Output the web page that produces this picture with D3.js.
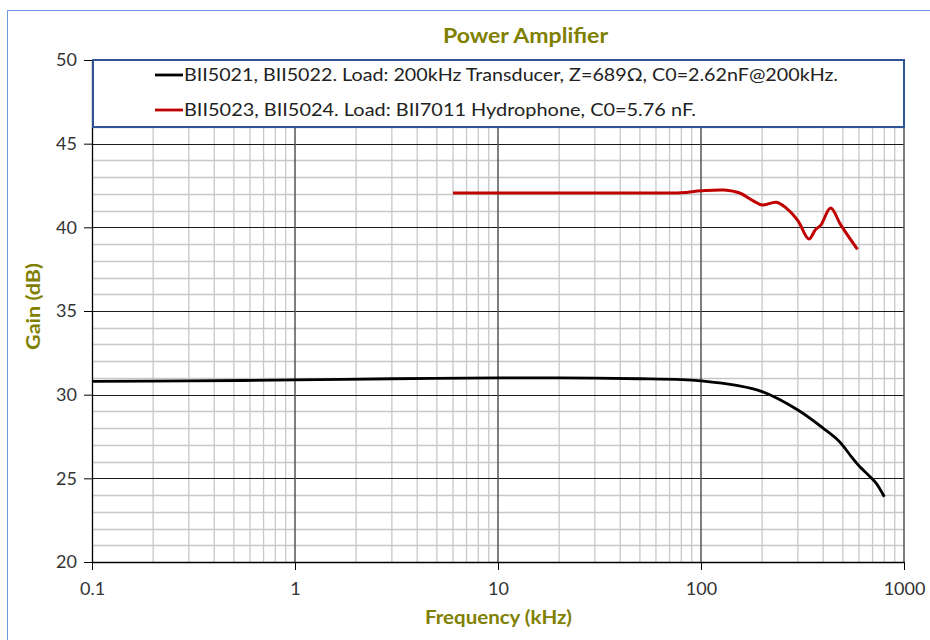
<!DOCTYPE html>
<html><head><meta charset="utf-8">
<script src="https://cdn.jsdelivr.net/npm/d3@7"></script>
<style>body{margin:0;background:#fff}</style>
</head><body>
<svg id="c" width="930" height="640"></svg>
<script>
const title = "Power Amplifier";
const xTitle = "Frequency (kHz)";
const yTitle = "Gain (dB)";
const xTickValues = [0.1, 1, 10, 100, 1000];
const xTickLabels = ["0.1", "1", "10", "100", "1000"];
const yTickValues = [20, 25, 30, 35, 40, 45, 50];
const seriesNames = [
  "BII5021, BII5022. Load: 200kHz Transducer, Z=689\u03A9, C0=2.62nF@200kHz.",
  "BII5023, BII5024. Load: BII7011 Hydrophone, C0=5.76 nF."
];
const seriesColors = ["#000000", "#C00000"];
const blackFreq = [0.1, 0.3, 1, 3, 10, 20, 50, 80, 100, 150, 200, 300, 400, 480, 550, 600, 680, 730, 800];
const blackGain = [30.8, 30.82, 30.88, 30.95, 31.0, 31.0, 30.95, 30.9, 30.82, 30.55, 30.18, 29.08, 27.99, 27.2, 26.3, 25.75, 25.1, 24.7, 23.9];
const redFreq = [6, 20, 50, 80, 100, 130, 155, 180, 200, 235, 263, 300, 340, 366, 390, 435, 488, 590];
const redGain = [42.05, 42.05, 42.05, 42.07, 42.18, 42.23, 42.05, 41.6, 41.33, 41.5, 41.15, 40.4, 39.3, 39.85, 40.15, 41.15, 40.15, 38.68];

const svg = d3.select("#c");
const font = "Lato, 'Open Sans', sans-serif";
const olive = "#808000";

// outer border
svg.append("rect").attr("x", 7.5).attr("y", 10.5).attr("width", 940).attr("height", 650)
  .attr("fill", "#fff").attr("stroke", "#6f9be0").attr("stroke-width", 1);

const x = d3.scaleLog().domain([0.1, 1000]).range([92, 904]);
const y = d3.scaleLinear().domain([20, 50]).range([562, 60]);

const g = svg.append("g");
// minor horizontal
const minorY = d3.range(21, 50).filter(v => v % 5 !== 0);
g.selectAll(".mh").data(minorY).join("line")
  .attr("x1", x(0.1)).attr("x2", x(1000))
  .attr("y1", d => Math.round(y(d)) + 0.5).attr("y2", d => Math.round(y(d)) + 0.5)
  .attr("stroke", "#c8c8c8").attr("stroke-width", 1.3);
// minor vertical
const minorX = [];
[0.1, 1, 10, 100].forEach(b => { for (let k = 2; k <= 9; k++) minorX.push(b * k); });
g.selectAll(".mv").data(minorX).join("line")
  .attr("y1", y(20)).attr("y2", y(50))
  .attr("x1", d => x(d)).attr("x2", d => x(d))
  .attr("stroke", "#c8c8c8").attr("stroke-width", 1.3);
// major horizontal
g.selectAll(".Mh").data(yTickValues.filter(v => v > 20)).join("line")
  .attr("x1", x(0.1)).attr("x2", x(1000))
  .attr("y1", d => Math.round(y(d)) + 0.5).attr("y2", d => Math.round(y(d)) + 0.5)
  .attr("stroke", "#1a1a1a").attr("stroke-width", 1);
// major vertical
g.selectAll(".Mv").data(xTickValues.slice(1)).join("line")
  .attr("y1", y(20)).attr("y2", y(50))
  .attr("x1", d => x(d)).attr("x2", d => x(d))
  .attr("stroke", "#555").attr("stroke-width", 1.5);

// axes
const yAxis = d3.axisLeft(y).tickValues(yTickValues).tickSize(8).tickSizeOuter(0).tickFormat(d3.format("d"));
const ya = svg.append("g").attr("transform", `translate(${x(0.1)},0)`).call(yAxis);
ya.select(".domain").attr("stroke", "#000").attr("stroke-width", 1.3);
ya.selectAll(".tick line").attr("stroke", "#000");
ya.selectAll(".tick text").attr("x", -15).attr("font-family", font).attr("font-size", 18).attr("fill", "#333");

const xAxis = d3.axisBottom(x).tickValues(xTickValues).tickSize(8).tickSizeOuter(0)
  .tickFormat((d, i) => xTickLabels[i]);
const xa = svg.append("g").attr("transform", `translate(0,${y(20)})`).call(xAxis);
xa.select(".domain").attr("stroke", "#000").attr("stroke-width", 1.3);
xa.selectAll(".tick line").attr("stroke", "#000");
xa.selectAll(".tick text").attr("y", 20).attr("font-family", font).attr("font-size", 18).attr("fill", "#333");

// lines
const line = d3.line().x(d => x(d[0])).y(d => y(d[1])).curve(d3.curveCatmullRom.alpha(0.5));
const blackData = blackFreq.map((f, i) => [f, blackGain[i]]);
const redData = redFreq.map((f, i) => [f, redGain[i]]);
svg.append("path").datum(blackData).attr("d", line).attr("fill", "none")
  .attr("stroke", seriesColors[0]).attr("stroke-width", 2.8).attr("stroke-linejoin", "round");
svg.append("path").datum(redData).attr("d", line).attr("fill", "none")
  .attr("stroke", seriesColors[1]).attr("stroke-width", 3).attr("stroke-linejoin", "round");

// legend
svg.append("rect").attr("x", 93).attr("y", 60).attr("width", 811).attr("height", 67)
  .attr("fill", "#fff").attr("stroke", "#2F5597").attr("stroke-width", 2);
const legendTextWidths = [654, 512];
seriesNames.forEach((n, i) => {
  const ly = 75 + i * 35;
  svg.append("line").attr("x1", 155).attr("x2", 183).attr("y1", ly).attr("y2", ly)
    .attr("stroke", seriesColors[i]).attr("stroke-width", 2.8);
  svg.append("text").attr("x", 184).attr("y", ly + 6).text(n)
    .attr("font-family", font).attr("font-size", 17).attr("fill", "#222")
    .attr("textLength", legendTextWidths[i]).attr("lengthAdjust", "spacingAndGlyphs");
});

// titles
svg.append("text").attr("x", 443).attr("y", 43).text(title)
  .attr("font-family", font).attr("font-weight", "bold").attr("font-size", 21).attr("fill", olive)
  .attr("textLength", 165).attr("lengthAdjust", "spacingAndGlyphs");
svg.append("text").attr("x", 425).attr("y", 624).text(xTitle)
  .attr("font-family", font).attr("font-weight", "bold").attr("font-size", 19).attr("fill", olive)
  .attr("textLength", 147).attr("lengthAdjust", "spacingAndGlyphs");
svg.append("text").attr("transform", "translate(40,350) rotate(-90)").text(yTitle)
  .attr("font-family", font).attr("font-weight", "bold").attr("font-size", 19).attr("fill", olive)
  .attr("textLength", 87).attr("lengthAdjust", "spacingAndGlyphs");
</script>
</body></html>
